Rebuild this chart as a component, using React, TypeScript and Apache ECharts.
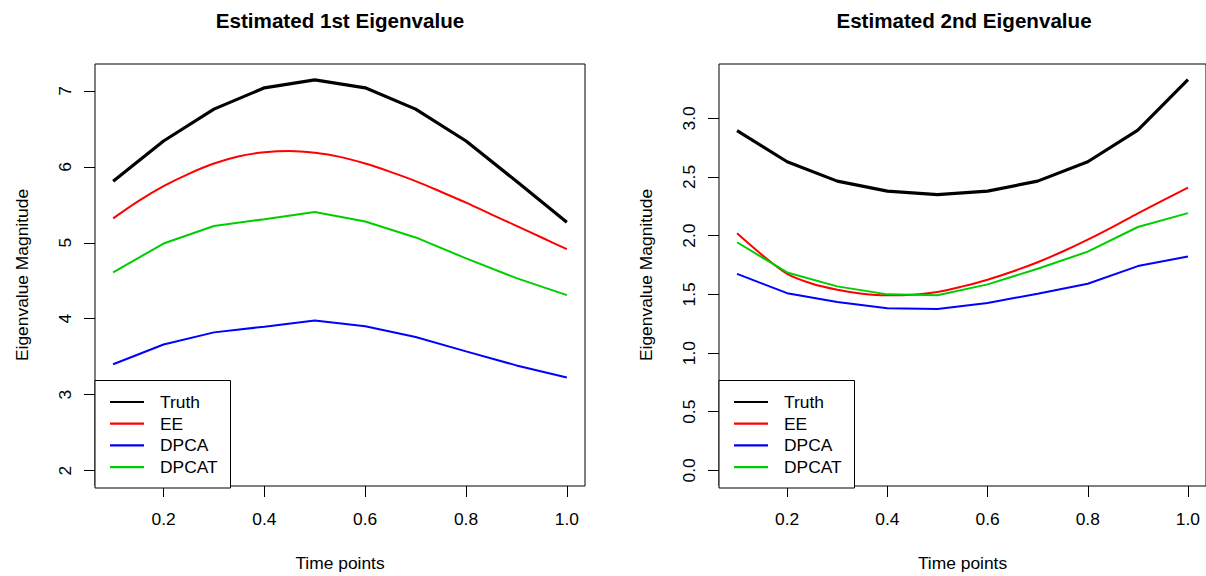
import { useEffect, useRef } from "react";
import * as echarts from "echarts";

const timePoints = [0.1, 0.2, 0.3, 0.4, 0.5, 0.6, 0.7, 0.8, 0.9, 1.0];
// EE is a smooth curve in the reference; read on a finer 0.05 grid
const eeTimePoints = [
  0.1, 0.15, 0.2, 0.25, 0.3, 0.35, 0.4, 0.45, 0.5, 0.55,
  0.6, 0.65, 0.7, 0.75, 0.8, 0.85, 0.9, 0.95, 1.0,
];
const seriesNames = ["Truth", "EE", "DPCA", "DPCAT"];
const seriesColors = ["#000000", "#FF0000", "#0000FF", "#00CD00"];

const truth1 = [5.81, 6.34, 6.76, 7.04, 7.145, 7.04, 6.76, 6.34, 5.81, 5.27];
const ee1 = [
  5.322, 5.549, 5.746, 5.908, 6.043, 6.139, 6.192, 6.21, 6.185, 6.131,
  6.043, 5.934, 5.812, 5.672, 5.528, 5.375, 5.222, 5.069, 4.916,
];
const dpca1 = [3.4, 3.66, 3.82, 3.895, 3.975, 3.9, 3.76, 3.57, 3.385, 3.225];
const dpcat1 = [4.61, 4.99, 5.22, 5.31, 5.405, 5.28, 5.07, 4.795, 4.535, 4.31];

const truth2 = [2.895, 2.63, 2.465, 2.38, 2.35, 2.38, 2.465, 2.63, 2.9, 3.33];
const ee2 = [
  2.02, 1.836, 1.675, 1.591, 1.54, 1.506, 1.492, 1.497, 1.52, 1.568,
  1.625, 1.695, 1.774, 1.865, 1.966, 2.075, 2.19, 2.3, 2.41,
];
const dpca2 = [1.675, 1.51, 1.435, 1.382, 1.376, 1.427, 1.506, 1.591, 1.741, 1.822];
const dpcat2 = [1.944, 1.687, 1.568, 1.5, 1.492, 1.585, 1.718, 1.864, 2.074, 2.192];

const xTicks = [0.2, 0.4, 0.6, 0.8, 1.0];
const yTicks1 = [2, 3, 4, 5, 6, 7];
const yTicks2 = [0, 0.5, 1.0, 1.5, 2.0, 2.5, 3.0];

const titles = ["Estimated 1st Eigenvalue", "Estimated 2nd Eigenvalue"];
const xTitle = "Time points";
const yTitle = "Eigenvalue Magnitude";

const FONT = "'Liberation Sans', Arial, Helvetica, sans-serif";
const FS = 17.4;

const panelData = [
  [truth1, ee1, dpca1, dpcat1],
  [truth2, ee2, dpca2, dpcat2],
];
const yRanges = [
  [1.797, 7.354],
  [-0.133, 3.463],
];
const yTickSets = [yTicks1, yTicks2];
const yDecimals = [0, 1];
const grids = [
  { left: 95, top: 64, width: 490, height: 424 },
  { left: 719, top: 64, width: 489, height: 424 },
];

function App() {
  const ref = useRef<HTMLDivElement>(null);
  useEffect(() => {
    if (!ref.current) return;
    const chart = echarts.init(ref.current, null, { renderer: "svg" });

    const xAxes = grids.map((_, i) => ({
      type: "value",
      gridIndex: i,
      min: 0.064,
      max: 1.036,
      name: xTitle,
      nameLocation: "middle",
      nameGap: 68,
      nameTextStyle: { fontSize: FS, color: "#000", fontFamily: FONT },
      splitLine: { show: false },
      axisLine: { show: false, onZero: false },
      axisTick: {
        show: true,
        length: 11,
        lineStyle: { color: "#000", width: 1 },
        customValues: xTicks,
      },
      axisLabel: {
        fontSize: FS,
        color: "#000",
        fontFamily: FONT,
        margin: 24,
        customValues: xTicks,
        formatter: (v: number) => v.toFixed(1),
      },
    }));

    const yAxes = grids.map((_, i) => ({
      type: "value",
      gridIndex: i,
      min: yRanges[i][0],
      max: yRanges[i][1],
      name: yTitle,
      nameLocation: "middle",
      nameGap: 65,
      nameTextStyle: { fontSize: FS, color: "#000", fontFamily: FONT },
      splitLine: { show: false },
      axisLine: { show: false, onZero: false },
      axisTick: {
        show: true,
        length: 11,
        lineStyle: { color: "#000", width: 1 },
        customValues: yTickSets[i],
      },
      axisLabel: {
        fontSize: FS,
        color: "#000",
        fontFamily: FONT,
        rotate: 90,
        margin: 22,
        customValues: yTickSets[i],
        formatter: (v: number) => v.toFixed(yDecimals[i]),
      },
    }));

    const series: any[] = [];
    panelData.forEach((panel, p) => {
      panel.forEach((vals, k) => {
        const xs = k === 1 ? eeTimePoints : timePoints;
        series.push({
          type: "line",
          name: seriesNames[k],
          xAxisIndex: p,
          yAxisIndex: p,
          data: xs.map((t, j) => [t, vals[j]]),
          symbol: "none",
          smooth: k === 1 ? 0.3 : false,
          lineStyle: { color: seriesColors[k], width: k === 0 ? 3.2 : 2 },
          itemStyle: { color: seriesColors[k] },
        });
      });
    });

    const graphics: any[] = [];
    grids.forEach((g, p) => {
      graphics.push({
        type: "text",
        x: g.left + 245,
        y: 20.5,
        style: {
          text: titles[p],
          fontSize: 20.6,
          fontWeight: "bold",
          fontFamily: FONT,
          fill: "#000",
          align: "center",
          verticalAlign: "middle",
        },
      });
      graphics.push({
        type: "rect",
        shape: { x: g.left, y: 380.5, width: 135.5, height: 107.5 },
        style: { fill: "#fff", stroke: "#000", lineWidth: 1 },
        z: 10,
      });
      seriesNames.forEach((nm, k) => {
        const yy = 402 + k * 21.7;
        graphics.push({
          type: "line",
          shape: { x1: g.left + 15, y1: yy, x2: g.left + 49, y2: yy },
          style: { stroke: seriesColors[k], lineWidth: 2.2 },
          z: 11,
        });
        graphics.push({
          type: "text",
          x: g.left + 65,
          y: yy,
          style: {
            text: nm,
            fontSize: FS,
            fontFamily: FONT,
            fill: "#000",
            align: "left",
            verticalAlign: "middle",
          },
          z: 11,
        });
      });
    });

    chart.setOption({
      animation: false,
      backgroundColor: "#fff",
      grid: grids.map((g) => ({
        ...g,
        show: true,
        borderColor: "#000",
        borderWidth: 1,
        backgroundColor: "transparent",
        containLabel: false,
      })),
      xAxis: xAxes,
      yAxis: yAxes,
      series,
      graphic: graphics,
    });

    return () => chart.dispose();
  }, []);

  return (
    <div
      ref={ref}
      style={{ position: "absolute", left: 0, top: 0, width: 1206, height: 576 }}
    />
  );
}

export default App;
